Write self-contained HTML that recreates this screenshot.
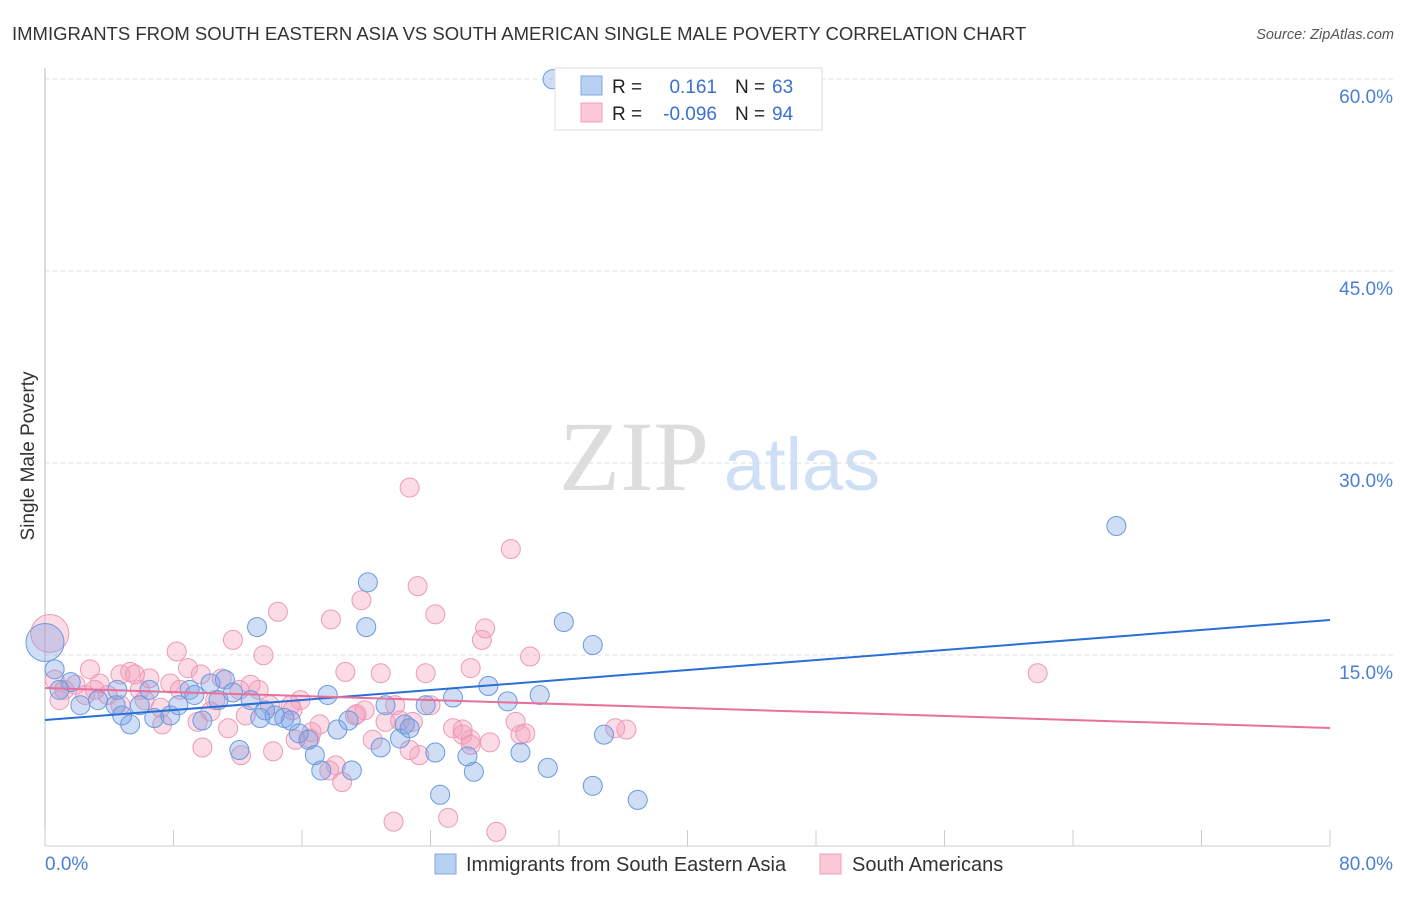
<!DOCTYPE html>
<html><head><meta charset="utf-8"><style>
body{margin:0;background:#fff;font-family:"Liberation Sans",sans-serif}
svg text{font-family:"Liberation Sans",sans-serif}
</style></head><body>
<svg id="chart" width="1406" height="892" xmlns="http://www.w3.org/2000/svg">
<text x="12" y="40" font-size="18.5" fill="#333">IMMIGRANTS FROM SOUTH EASTERN ASIA VS SOUTH AMERICAN SINGLE MALE POVERTY CORRELATION CHART</text>
<text x="1394" y="39" font-size="14.5" fill="#555" font-style="italic" text-anchor="end">Source: ZipAtlas.com</text>
<text transform="translate(34,456) rotate(-90)" font-size="19" fill="#333" text-anchor="middle">Single Male Poverty</text>
<g>
<text x="634" y="490" font-size="100" fill="#ddd" text-anchor="middle" style="font-family:'Liberation Serif',serif">ZIP</text>
<text x="802" y="490" font-size="74" fill="#cfdff5" text-anchor="middle">atlas</text>
</g>
<g id="grid"></g><g id="axes"></g><g id="points"></g><g id="trends"></g>
<g>
<rect x="555" y="68" width="267" height="62" fill="#fff" stroke="#ddd"/>
<rect x="581" y="76" width="21" height="19" fill="#b8d1f3" stroke="#7fa8e6"/>
<rect x="581" y="103" width="21" height="19" fill="#fbc9d8" stroke="#f0a0bb"/>
<text x="612" y="93" font-size="19" fill="#222">R =</text>
<text x="717" y="93" font-size="19" fill="#3b6fd0" text-anchor="end">0.161</text>
<text x="735" y="93" font-size="19" fill="#222">N =</text>
<text x="772" y="93" font-size="19" fill="#3b6fd0">63</text>
<text x="612" y="120" font-size="19" fill="#222">R =</text>
<text x="717" y="120" font-size="19" fill="#3b6fd0" text-anchor="end">-0.096</text>
<text x="735" y="120" font-size="19" fill="#222">N =</text>
<text x="772" y="120" font-size="19" fill="#3b6fd0">94</text>
</g>
<g>
<rect x="435" y="854" width="21" height="20" fill="#b8d1f3" stroke="#7fa8e6"/>
<text x="466" y="871" font-size="20" fill="#333">Immigrants from South Eastern Asia</text>
<rect x="820" y="854" width="21" height="20" fill="#fbc9d8" stroke="#f0a0bb"/>
<text x="852" y="871" font-size="20" fill="#333">South Americans</text>
</g>
</svg>
<script>
const yTicks=[15,30,45,60];
const yTickLabels=["15.0%","30.0%","45.0%","60.0%"];
const xTickLabels=["0.0%","80.0%"];
const blueX=[31.6,66.7,20.1,32.3,13.2,20.0,34.1,0,0.6,1.6,0.9,2.2,3.3,4.4,4.8,5.3,5.9,6.5,6.8,7.8,8.3,9.0,9.3,9.8,10.3,10.8,11.2,11.7,12.1,12.8,13.7,14.3,14.9,15.3,15.8,16.4,16.8,17.2,17.6,18.2,18.9,19.1,20.9,21.2,22.1,22.4,23.7,24.3,24.6,25.4,26.3,26.7,27.6,28.8,29.6,30.8,31.3,34.1,34.8,36.9,13.4,4.5,22.7];
const blueY=[59.9,25.0,20.6,17.5,17.1,17.1,15.7,15.9,13.8,12.8,12.2,11.0,11.4,11.0,10.2,9.5,11.0,12.2,10.0,10.2,11.0,12.2,11.8,9.8,12.7,11.4,13.0,12.0,7.5,11.4,10.6,10.2,10.0,9.8,8.8,8.3,7.1,5.9,11.8,9.1,9.8,5.9,7.7,11.0,8.4,9.5,11.0,7.3,4.0,11.6,7.0,5.8,12.5,11.3,7.3,11.8,6.1,4.7,8.7,3.6,10.0,12.2,9.2];
const pinkX=[22.7,29.0,23.2,24.3,14.5,17.8,19.7,27.4,27.2,30.2,26.5,23.7,20.9,18.7,13.6,11.7,8.2,8.9,2.8,5.3,6.5,7.8,9.7,11.0,12.1,13.3,15.9,15.3,17.1,19.3,19.9,21.8,22.1,24.0,25.4,26.0,26.5,27.7,29.3,29.6,29.9,35.5,36.2,61.8,0.3,0.6,1.2,1.9,3.4,3.9,4.7,5.9,6.2,7.2,7.3,9.5,9.8,10.3,11.4,12.2,12.5,14.2,15.4,16.5,16.6,17.7,18.1,18.5,19.4,20.4,21.7,22.9,23.3,25.1,26.0,28.1,26.5,21.2,4.7,2.5,0.9,3.1,5.6,8.4,10.6,12.8,14.0,15.6,22.7];
const pinkY=[28.0,23.2,20.3,18.1,18.3,17.7,19.2,17.0,16.1,14.8,13.9,13.5,13.5,13.6,14.9,16.1,15.2,13.9,13.8,13.6,13.1,12.7,13.4,13.1,12.2,12.2,11.4,11.0,9.5,10.2,10.6,11.0,9.8,11.0,9.2,8.7,8.3,8.1,9.7,8.7,8.8,9.2,9.1,13.5,16.6,13.0,12.2,12.6,12.7,11.8,13.4,12.2,11.4,10.8,9.5,9.7,7.7,10.5,9.2,7.1,10.2,7.4,10.6,8.4,8.9,5.9,6.3,5.0,10.3,8.3,1.9,9.7,7.1,2.2,9.1,1.1,7.9,9.7,11.0,11.8,11.4,12.2,13.4,12.2,11.4,12.6,11.0,8.3,7.5];
const blueTrend=[9.84,17.66];
const pinkTrend=[12.34,9.22];
const NS='http://www.w3.org/2000/svg';
const X0=45,X1=1330,Y0=846,PXPER=12.8;
function sx(v){return X0+(X1-X0)*v/80;}
function sy(v){return Y0-v*PXPER;}
function mk(tag,attrs,parent){const e=document.createElementNS(NS,tag);for(const k in attrs)e.setAttribute(k,attrs[k]);parent.appendChild(e);return e;}
const grid=document.getElementById('grid'),axes=document.getElementById('axes'),pts=document.getElementById('points'),tr=document.getElementById('trends');
yTicks.forEach((t,i)=>{
 const l=mk('line',{x1:45,x2:1393,y1:sy(t)+1,y2:sy(t)+1,stroke:'#ddd','stroke-dasharray':'4,4'},grid);
 
 
 const tx=mk('text',{x:1393,y:sy(t)+25,'font-size':19,fill:'#4a7fd4','text-anchor':'end'},axes);
 tx.textContent=yTickLabels[i];
 
 
});
const ya=mk('line',{x1:45,x2:45,y1:68,y2:846,stroke:'#bbb'},axes);


const xa=mk('line',{x1:45,x2:1330,y1:846,y2:846,stroke:'#ccc'},axes);


for(let i=0;i<=10;i++){const v=i*8;const t=mk('line',{x1:sx(v),x2:sx(v),y1:830,y2:846,stroke:'#ccc'},axes);
 
 }
const xl0=mk('text',{x:45,y:870,'font-size':19,fill:'#4a7fd4'},axes);xl0.textContent=xTickLabels[0];


const xl1=mk('text',{x:1393,y:870,'font-size':19,fill:'#4a7fd4','text-anchor':'end'},axes);xl1.textContent=xTickLabels[1];


function drawPts(xs,ys,fill,stroke,name){xs.forEach((x,i)=>{const big=(x<0.5&&ys[i]>15);
 const c=mk('circle',{cx:sx(x),cy:sy(ys[i]),r:big?19:9.5,fill:fill,stroke:stroke,'stroke-width':1},pts);
 
 });}
drawPts(pinkX,pinkY,'rgba(245,160,190,0.38)','#ec9ab7','point-sa');
drawPts(blueX,blueY,'rgba(120,160,225,0.35)','#6a9ae0','point-sea');
const bl=mk('line',{x1:sx(0),y1:sy(blueTrend[0]),x2:sx(80),y2:sy(blueTrend[1]),stroke:'#2a6fd6','stroke-width':2},tr);


const pl=mk('line',{x1:sx(0),y1:sy(pinkTrend[0]),x2:sx(80),y2:sy(pinkTrend[1]),stroke:'#e8709a','stroke-width':2},tr);


</script>
</body></html>
